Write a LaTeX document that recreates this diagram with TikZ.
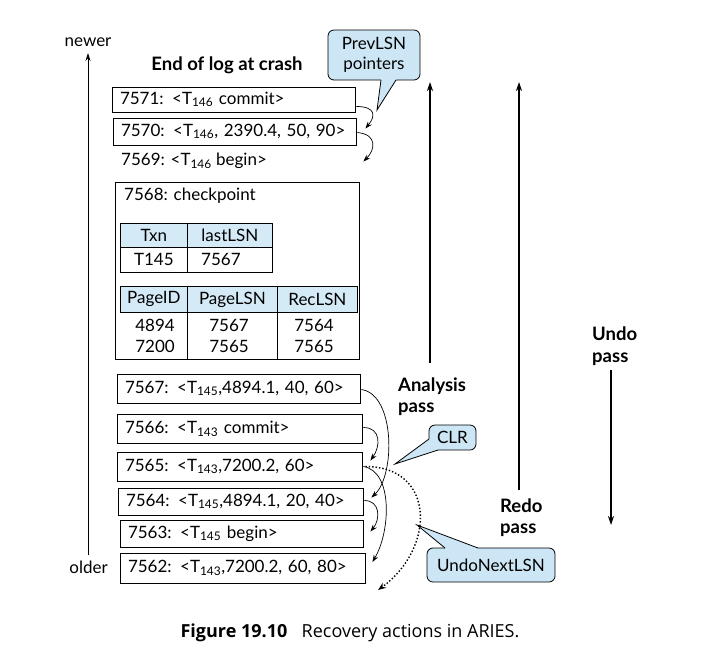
\documentclass[tikz,border=0pt]{standalone}
\usepackage{fontspec}
\setmainfont{Lato}
\newfontfamily\capfont{Open Sans}
\usetikzlibrary{arrows.meta,calc}
\definecolor{hdr}{HTML}{D5EAF7}
\definecolor{callfill}{HTML}{CDE6F5}
\newcommand{\lsub}[1]{\textsubscript{#1}}
\begin{document}
\begin{tikzpicture}[x=1pt,y=-1pt,
  font=\fontsize{17}{20}\selectfont,
  logbox/.style={draw, line width=0.8pt, inner xsep=8pt, inner ysep=0pt, align=left},
  cell/.style={draw, line width=0.8pt, inner sep=0pt, anchor=north west},
  lbl/.style={font=\fontsize{18.5}{21.5}\selectfont\bfseries, align=left, anchor=west, inner sep=0pt},
  callbox/.style={draw, line width=0.8pt, fill=callfill, rounded corners=6pt, align=center, inner sep=0pt},
  ptr/.style={line width=0.7pt, -{Stealth[length=7pt,width=5pt]}},
  undoptr/.style={line width=1.4pt, dotted, -{Stealth[length=8pt,width=6pt]}},
  bigarrow/.style={line width=1.5pt, -{Stealth[length=9pt,width=6pt]}},
  timearrow/.style={line width=0.8pt, -{Stealth[length=8pt,width=5pt]}}
]
\useasboundingbox (0,0) rectangle (711,657);

% time axis
\node[anchor=center, inner sep=0pt] (newer) at (88,42) {newer};
\node[anchor=east, inner sep=0pt] (older) at (108,567) {older};
\coordinate (tbot) at (88,555);
\coordinate (ttop) at (88,53);
\draw[timearrow] (tbot) -- (ttop);

\node[font=\fontsize{18.5}{21}\selectfont\bfseries, inner sep=0pt] (eol) at (227,65) {End of log at crash};

% log records
\node[logbox, text width=227pt, minimum height=25pt] (b71) at (233.5,99.5) {7571: <T\lsub{146} commit>};
\node[logbox, text width=227pt, minimum height=27pt] (b70) at (234.5,131.5) {7570: <T\lsub{146}, 2390.4, 50, 90>};
\node[anchor=west, inner xsep=8pt, inner ysep=0pt] (b69) at (113,161) {7569: <T\lsub{146} begin>};

% checkpoint
\node[draw, line width=0.8pt, minimum width=244pt, minimum height=177pt, anchor=north west, inner sep=0pt] (ckpt) at (115,182) {};
\node[anchor=west, inner sep=0pt] (ckl) at (124,196) {7568: checkpoint};
\node[cell, fill=hdr, minimum width=67pt, minimum height=24pt] (t1a) at (120,223) {Txn};
\node[cell, fill=hdr, minimum width=85pt, minimum height=24pt] (t1b) at (187,223) {lastLSN};
\node[cell, minimum width=67pt, minimum height=25pt] (t1c) at (120,247) {T145};
\node[cell, minimum width=85pt, minimum height=25pt] (t1d) at (187,247) {};
\node[anchor=west, inner sep=0pt] (t1dv) at (201,259.5) {7567};

\node[cell, fill=hdr, minimum width=67pt, minimum height=26pt] (t2a) at (120,286) {PageID};
\node[cell, fill=hdr, minimum width=90pt, minimum height=26pt] (t2b) at (187,286) {PageLSN};
\node[cell, fill=hdr, minimum width=80pt, minimum height=26pt] (t2c) at (277,286) {RecLSN};
\draw[line width=0.8pt] (t2a.south east) -- (t2a.south east |- ckpt.south);
\draw[line width=0.8pt] (t2b.south east) -- (t2b.south east |- ckpt.south);
\node[inner sep=0pt, align=center, font=\fontsize{17}{21}\selectfont] (c1) at (155,336) {4894\\7200};
\node[inner sep=0pt, align=center, font=\fontsize{17}{21}\selectfont] (c2) at (229,336) {7567\\7565};
\node[inner sep=0pt, align=center, font=\fontsize{17}{21}\selectfont] (c3) at (314,336) {7564\\7565};

\node[logbox, text width=227pt, minimum height=29pt] (b67) at (238.5,388.5) {7567: <T\lsub{145},4894.1, 40, 60>};
\node[logbox, text width=229pt, minimum height=29pt] (b66) at (239.5,428.5) {7566: <T\lsub{143} commit>};
\node[logbox, text width=229pt, minimum height=29pt] (b65) at (239.5,466.5) {7565: <T\lsub{143},7200.2, 60>};
\node[logbox, text width=229pt, minimum height=27pt] (b64) at (240.5,501.5) {7564: <T\lsub{145},4894.1, 20, 40>};
\node[logbox, text width=227pt, minimum height=27pt] (b63) at (241.5,533.5) {7563: <T\lsub{145} begin>};
\node[logbox, text width=229pt, minimum height=30pt] (b62) at (242.5,568) {7562: <T\lsub{143},7200.2, 60, 80>};

% PrevLSN pointers
\draw[ptr] ($(b71.east)+(1,7)$) .. controls +(20,0) and +(10,-12) .. ($(b70.east)+(9,-3)$);
\draw[ptr] ($(b70.east)+(1,1)$) .. controls +(20,2) and +(12,-12) .. ($(b70.east)+(7,30)$);
\draw[ptr] ($(b67.east)+(1,1)$) .. controls +(34,5) and +(24,-22) .. ($(b64.east)+(8,-4)$);
\draw[ptr] ($(b66.east)+(1,-1)$) .. controls +(18,0) and +(10,-14) .. ($(b65.east)+(8,-6)$);
\draw[ptr] ($(b65.east)+(1,0)$) .. controls +(30,5) and +(18,-30) .. ($(b62.east)+(7,-6)$);
\draw[ptr] ($(b64.east)+(1,-1)$) .. controls +(16,0) and +(10,-12) .. ($(b63.east)+(7,-2)$);
% UndoNextLSN
\coordinate (undoend) at (378,590);
\draw[undoptr] ($(b65.east)+(3,0)$) .. controls +(70,0) and +(58,-42) .. (undoend);

% passes
\node[lbl] (ana) at (398,396.5) {Analysis\\pass};
\coordinate (anabot) at (430,363);
\coordinate (anatop) at (430,82);
\draw[bigarrow] (anabot) -- (anatop);
\node[lbl] (redo) at (500,517.5) {Redo\\pass};
\coordinate (redobot) at (519,490);
\coordinate (redotop) at (519,82);
\draw[bigarrow] (redobot) -- (redotop);
\node[lbl] (undo) at (592,346) {Undo\\pass};
\coordinate (undotop) at (611,370);
\coordinate (undobot) at (611,525);
\draw[bigarrow] (undotop) -- (undobot);

% callouts
\node[callbox, minimum width=92pt, minimum height=50pt, font=\fontsize{17}{20}\selectfont] (prev) at (374,55) {PrevLSN\\pointers};
\coordinate (prevtip) at (377,110);
\fill[callfill] (381,78) -- (381,80) -- (prevtip) -- (396,80) -- (396,78) -- cycle;
\draw[line width=0.8pt] (381,80) -- (prevtip) -- (396,80);

\node[callbox, minimum width=47pt, minimum height=25pt] (clr) at (452.5,437.5) {CLR};
\coordinate (clrtip) at (395,464);
\fill[callfill] (431,439) -- (429,439) -- (clrtip) -- (438,450) -- (438,448) -- cycle;
\draw[line width=0.8pt] (429,439) -- (clrtip) -- (438,450);

\node[callbox, minimum width=128pt, minimum height=34pt] (unl) at (491,565) {UndoNextLSN};
\coordinate (unltip) at (417,525);
\fill[callfill] (445,550) -- (445,548) -- (unltip) -- (478,548) -- (478,550) -- cycle;
\draw[line width=0.8pt] (445,548) -- (unltip) -- (478,548);

% caption
\node[inner sep=0pt, font=\capfont\fontsize{18}{21}\selectfont] (cap) at (350,633) {\textbf{Figure 19.10}\hspace{0.8em}Recovery actions in ARIES.};
\end{tikzpicture}
\end{document}
